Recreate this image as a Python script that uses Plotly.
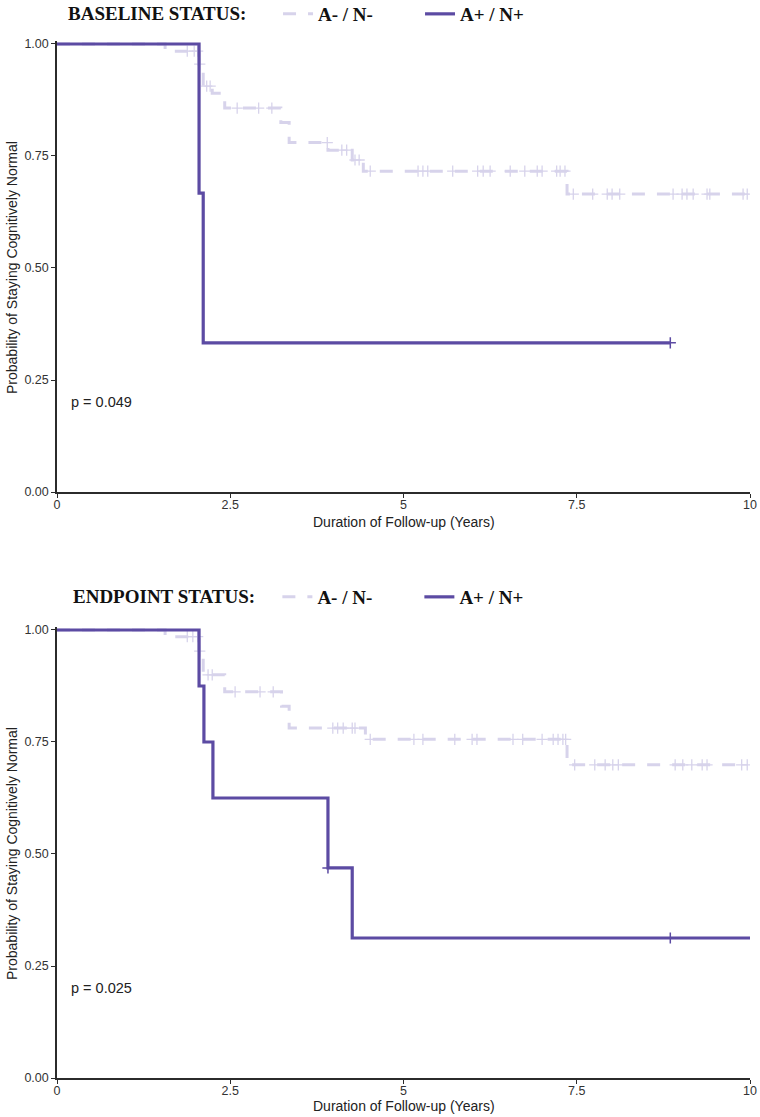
import numpy as np
import plotly.graph_objects as go

# ---------------- data ----------------
# Baseline status panel
base_neg_t = [0, 1.56, 2.05, 2.11, 2.24, 2.42, 3.23, 3.35, 3.91, 4.26, 4.42, 7.36, 9.96]
base_neg_s = [1.0, 0.984, 0.955, 0.906, 0.89, 0.857, 0.825, 0.78, 0.763, 0.741, 0.716, 0.665, 0.665]
base_neg_cens = [1.88, 1.98, 2.03, 2.06, 2.16, 2.21, 2.60, 2.91, 3.10, 3.90, 4.11, 4.18, 4.30, 4.36,
                 4.52, 5.21, 5.28, 5.35, 5.71, 6.07, 6.15, 6.25, 6.54, 6.75, 6.93, 7.00, 7.21, 7.26, 7.33,
                 7.45, 7.73, 7.94, 8.01, 8.12, 8.89, 9.02, 9.09, 9.18, 9.38, 9.42, 9.90, 9.96]
base_pos_t = [0, 2.05, 2.11, 8.85]
base_pos_s = [1.0, 0.667, 0.333, 0.333]
base_pos_cens = [8.85]

# Endpoint status panel
end_neg_t = [0, 1.56, 2.05, 2.11, 2.42, 3.24, 3.35, 4.45, 7.36, 9.96]
end_neg_s = [1.0, 0.985, 0.953, 0.90, 0.862, 0.83, 0.781, 0.756, 0.699, 0.699]
end_neg_cens = [1.88, 1.96, 2.03, 2.06, 2.18, 2.24, 2.57, 2.93, 3.12, 3.98, 4.05, 4.13, 4.26, 4.30,
                4.52, 5.15, 5.28, 5.74, 5.99, 6.06, 6.58, 6.72, 7.00, 7.16, 7.23, 7.30, 7.34,
                7.47, 7.76, 7.91, 8.02, 8.10, 8.92, 9.03, 9.16, 9.31, 9.38, 9.88, 9.96]
end_pos_t = [0, 2.05, 2.12, 2.25, 3.91, 4.26, 10.0]
end_pos_s = [1.0, 0.875, 0.75, 0.625, 0.469, 0.3125, 0.3125]
end_pos_cens = [3.91, 8.85]

p_values = ["p = 0.049", "p = 0.025"]
legend_titles = ["BASELINE STATUS:", "ENDPOINT STATUS:"]
group_labels = ["A- / N-", "A+ / N+"]
x_title = "Duration of Follow-up (Years)"
y_title = "Probability of Staying Cognitively Normal"
x_ticks = [0, 2.5, 5, 7.5, 10]
x_tick_text = ["0", "2.5", "5", "7.5", "10"]
y_ticks = [0, 0.25, 0.5, 0.75, 1.0]
y_tick_text = ["0.00", "0.25", "0.50", "0.75", "1.00"]

# ---------------- style ----------------
COL_NEG = "#d7d3eb"
COL_POS = "#5c4ba3"
AX_COL = "#2b2b2b"
W, H = 760, 1117
L, R = 57, 10


def surv_at(times, surv, t):
    idx = np.searchsorted(np.array(times), t, side="right") - 1
    return [surv[i] for i in idx]


fig = go.Figure()

panels = [
    (base_neg_t, base_neg_s, base_neg_cens, base_pos_t, base_pos_s, base_pos_cens, "x", "y", "legend"),
    (end_neg_t, end_neg_s, end_neg_cens, end_pos_t, end_pos_s, end_pos_cens, "x2", "y2", "legend2"),
]

for (nt, ns, nc, pt, ps, pc, xa, ya, lg) in panels:
    fig.add_trace(go.Scatter(x=nt, y=ns, mode="lines", line=dict(shape="hv", color=COL_NEG, width=3, dash="13px,12px"),
                             name=group_labels[0], xaxis=xa, yaxis=ya, legend=lg, hoverinfo="skip"))
    fig.add_trace(go.Scatter(x=nc, y=surv_at(nt, ns, nc), mode="markers",
                             marker=dict(symbol="cross-thin", size=8, line=dict(color=COL_NEG, width=1.3)),
                             showlegend=False, xaxis=xa, yaxis=ya, hoverinfo="skip"))
    fig.add_trace(go.Scatter(x=pt, y=ps, mode="lines", line=dict(shape="hv", color=COL_POS, width=3.2),
                             name=group_labels[1], xaxis=xa, yaxis=ya, legend=lg, hoverinfo="skip"))
    fig.add_trace(go.Scatter(x=pc, y=surv_at(pt, ps, pc), mode="markers",
                             marker=dict(symbol="cross-thin", size=8, line=dict(color=COL_POS, width=1.5)),
                             showlegend=False, xaxis=xa, yaxis=ya, hoverinfo="skip"))


def ydom(top_px, bot_px):
    return [1 - bot_px / H, 1 - top_px / H]


axis_common = dict(showline=True, linecolor=AX_COL, linewidth=1.5, ticks="outside", ticklen=4,
                   tickcolor=AX_COL, tickwidth=1.2, showgrid=False, zeroline=False,
                   tickfont=dict(family="Liberation Sans, Arial", size=12.5, color="#333333"))

title_font = dict(family="Liberation Sans, Arial", size=14, color="#222222")

fig.update_layout(
    width=W, height=H,
    margin=dict(l=L, r=R, t=0, b=0, autoexpand=False),
    plot_bgcolor="white", paper_bgcolor="white",
    xaxis=dict(domain=[0, 1], range=[0, 10], tickvals=x_ticks, ticktext=x_tick_text, anchor="y",
               ticklabelstandoff=-4, **axis_common),
    yaxis=dict(domain=ydom(41.3, 492), range=[0, 1.006], tickvals=y_ticks, ticktext=y_tick_text, anchor="x",
               **axis_common),
    xaxis2=dict(domain=[0, 1], range=[0, 10], tickvals=x_ticks, ticktext=x_tick_text, anchor="y2",
                ticklabelstandoff=-4, **axis_common),
    yaxis2=dict(domain=ydom(627.3, 1078), range=[0, 1.006], tickvals=y_ticks, ticktext=y_tick_text, anchor="x2",
                **axis_common),
)

# axis titles (placed as paper annotations)
plot_cx = ((L + W - R) / 2 - L) / (W - L - R)
for xt_y, yt_c in [(522, 268), (1106, 854)]:
    fig.add_annotation(text=x_title, xref="paper", yref="paper", x=plot_cx, y=1 - xt_y / H,
                       xanchor="center", yanchor="middle", showarrow=False, font=title_font)
    fig.add_annotation(text=y_title, xref="paper", yref="paper", x=(12 - L) / (W - L - R), y=1 - yt_c / H,
                       xanchor="center", yanchor="middle", textangle=-90, showarrow=False, font=title_font)

leg_font = dict(family="Liberation Serif, Times New Roman, serif", size=19, color="#111111", weight="bold")
for lg, title, ypx, xpx, pad in [("legend", legend_titles[0], 14, 66, "     "),
                                 ("legend2", legend_titles[1], 597, 71, "   ")]:
    fig.update_layout(**{lg: dict(
        orientation="h", xref="container", yref="container", x=xpx / W, y=1 - ypx / H,
        xanchor="left", yanchor="middle", bgcolor="rgba(0,0,0,0)",
        title=dict(text=title + pad, side="left", font=leg_font),
        font=leg_font, itemwidth=30, entrywidth=97, traceorder="normal")})

for i, (ya, xa) in enumerate([("y", "x"), ("y2", "x2")]):
    fig.add_annotation(x=0.18, y=0.2, xref=xa, yref=ya, text=p_values[i], showarrow=False,
                       xanchor="left", yanchor="middle",
                       font=dict(family="Liberation Sans, Arial", size=14.5, color="#222222"))

fig.write_html("out.html", config={"displayModeBar": False},
               post_script="document.body.style.margin='0';")
